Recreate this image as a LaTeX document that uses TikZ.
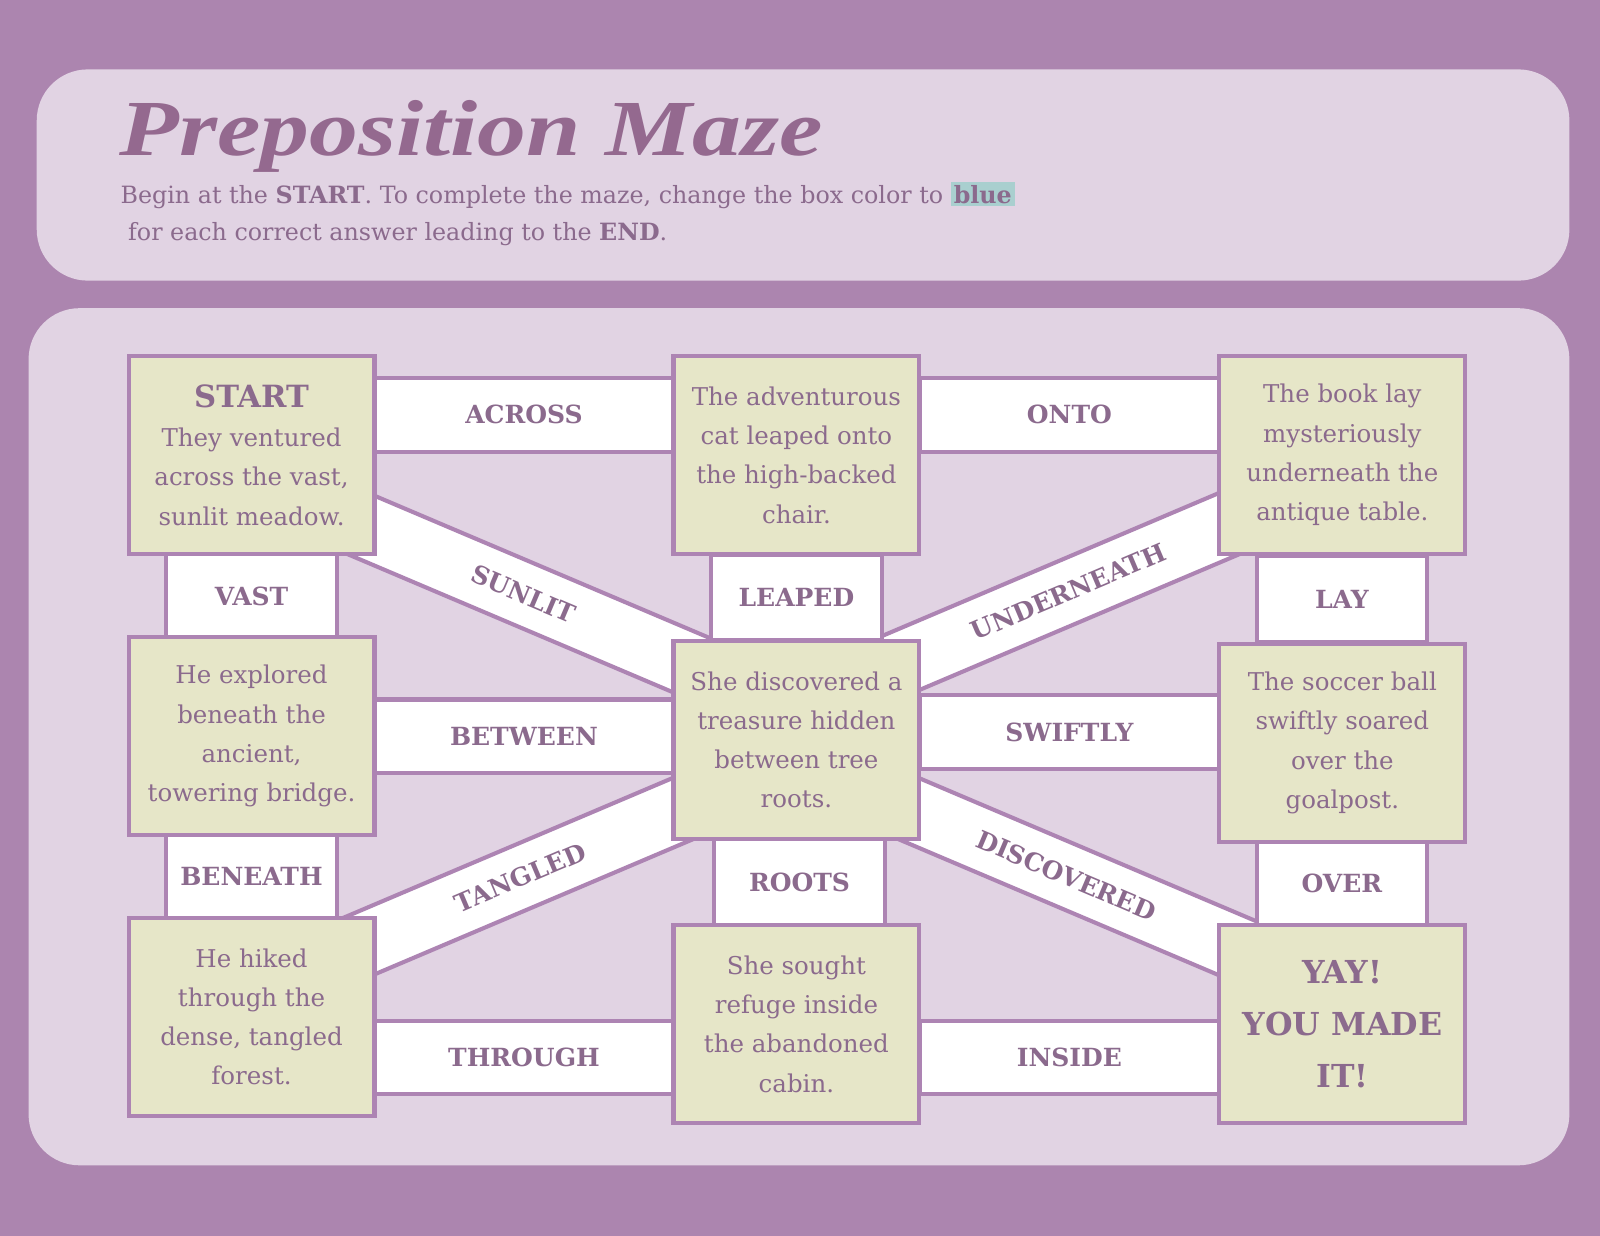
\documentclass[tikz,border=0pt]{standalone}
\usepackage{fontspec}
\setmainfont{DejaVu Serif}
\newfontfamily\titlefont{Liberation Serif}
\definecolor{bgc}{HTML}{AC85AF}
\definecolor{panel}{HTML}{E1D3E3}
\definecolor{ink}{HTML}{8B6A8D}
\definecolor{ttl}{HTML}{94698F}
\definecolor{beige}{HTML}{E6E6C8}
\definecolor{bord}{HTML}{AD84B3}
\definecolor{hl}{HTML}{A9CFCF}
\begin{document}
\begin{tikzpicture}[x=1pt,y=-1pt,
  box/.style={draw=bord,line width=4pt,fill=beige,minimum width=241pt,minimum height=194pt,align=center,text=ink,font=\fontsize{24}{38.5}\selectfont,inner sep=0pt},
  conn/.style={draw=bord,line width=4pt,fill=white,text=ink,font=\fontsize{24.5}{28}\selectfont\bfseries,inner sep=0pt},
  hc/.style={conn,minimum width=293pt,minimum height=72pt},
  vc/.style={conn,minimum width=167pt,minimum height=84pt},
  band/.style={conn,minimum width=560pt,minimum height=63pt}]
\fill[bgc] (0,0) rectangle (1568,1211);
\fill[panel,rounded corners=50pt] (36,68) rectangle (1538,275);
\fill[panel,rounded corners=50pt] (28,302) rectangle (1538,1142);
\node[anchor=base west,inner sep=0pt,text=ttl] (title) at (117,152) {\resizebox{689pt}{54pt}{\titlefont\bfseries\itshape Preposition Maze}};
\node[anchor=base west,inner sep=0pt,text=ink,align=left,font=\fontsize{23.3}{37}\selectfont] (sub) at (118,236)
 {Begin at the \textbf{START}. To complete the maze, change the box color to \colorbox{hl}{\textbf{blue}}\\[0pt]
 \ for each correct answer leading to the \textbf{END}.};
% diagonal bands
\node[band,rotate=-23] (sunlit) at (513,582) {SUNLIT};
\node[band,rotate=23] (under) at (1047,580) {UNDERNEATH};
\node[band,rotate=23] (tangled) at (510,860) {TANGLED};
\node[band,rotate=-23] (disc) at (1045,858) {DISCOVERED};
% straight connectors
\node[hc] (across) at (513.5,406.5) {ACROSS};
\node[hc] (onto) at (1048,406.5) {ONTO};
\node[hc] (between) at (513.5,721.5) {BETWEEN};
\node[hc] (swiftly) at (1048,717.5) {SWIFTLY};
\node[hc] (through) at (513.5,1036.5) {THROUGH};
\node[hc] (inside) at (1048,1036.5) {INSIDE};
\node[vc] (vast) at (246.5,584) {VAST};
\node[vc] (beneath) at (246.5,859) {BENEATH};
\node[vc] (leaped) at (780.5,585.5) {LEAPED};
\node[vc] (roots) at (783.5,864.5) {ROOTS};
\node[vc] (lay) at (1315,587) {LAY};
\node[vc] (over) at (1315,866) {OVER};
% boxes
\node[box] (start) at (246.5,446) {{\fontsize{30}{38.5}\selectfont\bfseries START}\\They ventured\\across the vast,\\sunlit meadow.};
\node[box] (cat) at (780.5,446) {The adventurous\\cat leaped onto\\the high-backed\\chair.};
\node[box] (book) at (1315.5,446) {The book lay\\mysteriously\\underneath the\\antique table.};
\node[box] (expl) at (246.5,721.5) {He explored\\beneath the\\ancient,\\towering bridge.};
\node[box] (treas) at (780.5,725) {She discovered a\\treasure hidden\\between tree\\roots.};
\node[box] (ball) at (1315.5,728) {The soccer ball\\swiftly soared\\over the\\goalpost.};
\node[box] (hike) at (246.5,996.5) {He hiked\\through the\\dense, tangled\\forest.};
\node[box] (cabin) at (780.5,1003.5) {She sought\\refuge inside\\the abandoned\\cabin.};
\node[box,font=\fontsize{31}{51}\selectfont\bfseries] (end) at (1315.5,1003.5) {YAY!\\YOU MADE\\IT!};
\end{tikzpicture}
\end{document}
